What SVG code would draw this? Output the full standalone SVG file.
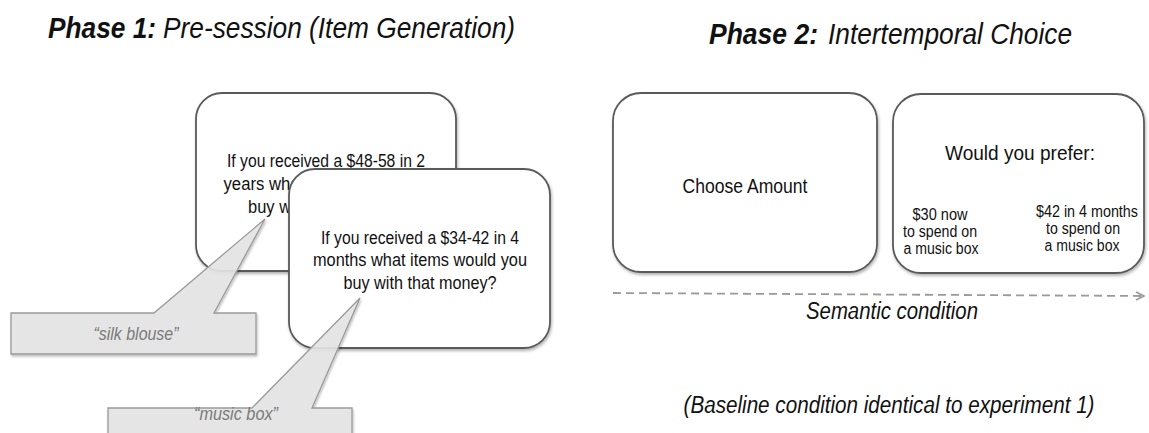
<svg xmlns="http://www.w3.org/2000/svg" width="1149" height="433" viewBox="0 0 1149 433">
  <style>
    text { font-family: "Liberation Sans", Arial, sans-serif; fill: #111; }
    .title { font-size: 30px; font-style: italic; }
    .b { font-weight: bold; }
    .box { fill: #fff; stroke: #5a5a5a; stroke-width: 1.8; filter: url(#sh); }
    .body { font-size: 17.5px; text-anchor: middle; }
    .opt { font-size: 16px; text-anchor: middle; }
    .call { fill: #e6e6e6; fill-opacity: 0.9; stroke: #9a9a9a; stroke-width: 1.3; filter: url(#sh2); }
    .calltext { font-size: 18.5px; font-style: italic; fill: #7a7a7a; text-anchor: middle; }
    .cond { font-size: 23px; font-style: italic; text-anchor: middle; }
    .dash { fill: none; stroke: #9a9a9a; stroke-width: 1.8; stroke-dasharray: 8 5; }
  </style>
  <defs>
    <filter id="sh" x="-10%" y="-10%" width="125%" height="125%">
      <feDropShadow dx="1" dy="2" stdDeviation="1.5" flood-color="#000" flood-opacity="0.3"/>
    </filter>
    <filter id="sh2" x="-10%" y="-10%" width="125%" height="125%">
      <feDropShadow dx="1" dy="2" stdDeviation="1.2" flood-color="#000" flood-opacity="0.25"/>
    </filter>
    <marker id="chev" viewBox="0 0 10 10" refX="9" refY="5" markerWidth="10" markerHeight="10" markerUnits="userSpaceOnUse" orient="auto">
      <path d="M1,1 L9,5 L1,9" fill="none" stroke="#9a9a9a" stroke-width="1.8"/>
    </marker>
  </defs>

  <g id="title1">
    <text class="title b" x="48" y="38" textLength="108" lengthAdjust="spacingAndGlyphs">Phase 1:</text>
    <text class="title" x="163" y="38" textLength="352" lengthAdjust="spacingAndGlyphs">Pre-session (Item Generation)</text>
  </g>
  <g id="title2">
    <text class="title b" x="709" y="44" textLength="109" lengthAdjust="spacingAndGlyphs">Phase 2:</text>
    <text class="title" x="828" y="44" textLength="244" lengthAdjust="spacingAndGlyphs">Intertemporal Choice</text>
  </g>

  <g id="item-card-1">
    <rect class="box" x="196" y="93" width="260" height="178" rx="26"/>
    <text class="body" x="326" y="167" textLength="198" lengthAdjust="spacingAndGlyphs">If you received a $48-58 in 2</text>
    <text class="body" x="326" y="190" textLength="205" lengthAdjust="spacingAndGlyphs">years what items would you</text>
    <text class="body" x="326" y="213" textLength="156" lengthAdjust="spacingAndGlyphs">buy with that money?</text>
  </g>

  <g id="item-card-2">
    <rect class="box" x="289" y="169" width="261" height="179" rx="26"/>
    <text class="body" x="420" y="244" textLength="198" lengthAdjust="spacingAndGlyphs">If you received a $34-42 in 4</text>
    <text class="body" x="420" y="266" textLength="214" lengthAdjust="spacingAndGlyphs">months what items would you</text>
    <text class="body" x="420" y="289" textLength="153" lengthAdjust="spacingAndGlyphs">buy with that money?</text>
  </g>

  <g id="callout-silk-blouse">
    <path class="call" d="M11,313 L154,313 L265,219 L214,313 L256,313 L256,354 L11,354 Z"/>
    <text class="calltext" x="136" y="340" textLength="85" lengthAdjust="spacingAndGlyphs">“silk blouse”</text>
  </g>

  <g id="callout-music-box">
    <path class="call" d="M108,408 L252,408 L360,298 L312,408 L352,408 L352,445 L108,445 Z"/>
    <text class="calltext" x="236" y="420" textLength="84" lengthAdjust="spacingAndGlyphs">“music box”</text>
  </g>

  <g id="choose-amount">
    <rect class="box" x="613" y="93" width="264" height="179" rx="28"/>
    <text x="745" y="193" style="font-size:19.5px;text-anchor:middle" textLength="125" lengthAdjust="spacingAndGlyphs">Choose Amount</text>
  </g>

  <g id="would-you-prefer">
    <rect class="box" x="893" y="94" width="251" height="179" rx="28"/>
    <text x="1020" y="160" style="font-size:21px;text-anchor:middle" textLength="150" lengthAdjust="spacingAndGlyphs">Would you prefer:</text>
    <text class="opt" x="940" y="220" textLength="55" lengthAdjust="spacingAndGlyphs">$30 now</text>
    <text class="opt" x="940" y="237" textLength="74" lengthAdjust="spacingAndGlyphs">to spend on</text>
    <text class="opt" x="941" y="254" textLength="75" lengthAdjust="spacingAndGlyphs">a music box</text>
    <text class="opt" x="1087" y="217" textLength="102" lengthAdjust="spacingAndGlyphs">$42 in 4 months</text>
    <text class="opt" x="1083" y="234" textLength="74" lengthAdjust="spacingAndGlyphs">to spend on</text>
    <text class="opt" x="1082" y="251" textLength="75" lengthAdjust="spacingAndGlyphs">a music box</text>
  </g>

  <g id="connectors">
    <path class="dash" d="M613,293 L1144,296" marker-end="url(#chev)"/>
  </g>

  <g id="labels">
    <text class="cond" x="892" y="319" textLength="172" lengthAdjust="spacingAndGlyphs">Semantic condition</text>
    <text class="cond" x="889" y="413" textLength="411" lengthAdjust="spacingAndGlyphs">(Baseline condition identical to experiment 1)</text>
  </g>
</svg>
